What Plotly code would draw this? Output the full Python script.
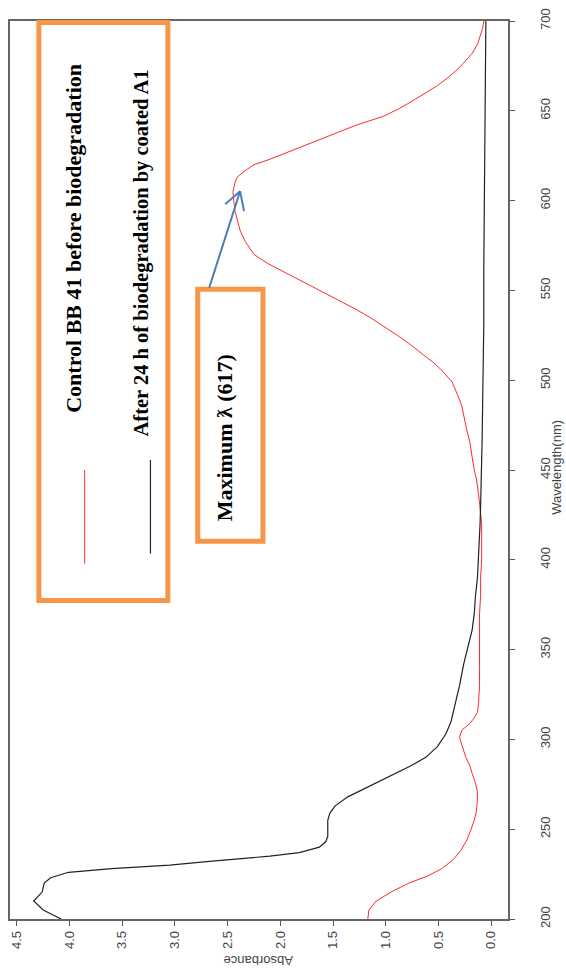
import plotly.graph_objects as go

# UV-Vis spectra of BB 41 dye (wavelength in nm, absorbance)
control_wl = [200, 205, 210, 215, 220, 224, 228, 233, 238, 244, 250, 255, 260, 266,
              271, 276, 281, 285, 290, 294, 298, 301, 305, 309, 312, 315, 320, 330,
              340, 350, 360, 370, 380, 390, 400, 412, 420, 426, 432, 437, 445, 450,
              457, 465, 472, 480, 486, 492, 499, 505, 510, 514, 520, 525, 530, 535,
              540, 544, 550, 555, 560, 565, 570, 577, 583, 588, 594, 599, 605, 610,
              613, 616, 620, 623, 627, 632, 636, 642, 647, 651, 655, 660, 664, 668,
              673, 678, 682, 687, 692, 696, 700]
control_abs = [1.17, 1.16, 1.09, 0.95, 0.78, 0.60, 0.47, 0.36, 0.29, 0.23, 0.19, 0.16,
               0.14, 0.13, 0.13, 0.15, 0.18, 0.20, 0.24, 0.26, 0.28, 0.30, 0.28, 0.20,
               0.16, 0.13, 0.12, 0.11, 0.11, 0.11, 0.11, 0.11, 0.10, 0.10, 0.09, 0.09,
               0.09, 0.10, 0.11, 0.12, 0.14, 0.16, 0.18, 0.20, 0.23, 0.26, 0.28, 0.32,
               0.37, 0.46, 0.55, 0.64, 0.77, 0.89, 1.02, 1.15, 1.30, 1.43, 1.63, 1.78,
               1.95, 2.12, 2.25, 2.33, 2.38, 2.40, 2.43, 2.44, 2.45, 2.43, 2.41, 2.35,
               2.25, 2.10, 1.93, 1.72, 1.55, 1.28, 1.02, 0.88, 0.76, 0.62, 0.51, 0.42,
               0.32, 0.24, 0.18, 0.13, 0.10, 0.08, 0.07]

after_wl = [200, 205, 210, 215, 220, 223, 226, 228, 230, 232, 235, 237, 240, 243, 246,
            250, 255, 259, 263, 268, 272, 277, 281, 285, 290, 296, 303, 310, 315, 320,
            330, 342, 352, 361, 370, 379, 390, 400, 410, 420, 430, 440, 450, 468, 490,
            510, 530, 560, 590, 620, 660, 700]
after_abs = [4.08, 4.25, 4.34, 4.26, 4.24, 4.18, 4.01, 3.60, 3.05, 2.70, 2.10, 1.82,
             1.63, 1.57, 1.55, 1.55, 1.55, 1.53, 1.48, 1.36, 1.22, 1.06, 0.92, 0.77,
             0.62, 0.51, 0.43, 0.38, 0.36, 0.34, 0.30, 0.26, 0.22, 0.18, 0.16, 0.15,
             0.13, 0.12, 0.11, 0.105, 0.10, 0.095, 0.09, 0.085, 0.08, 0.075, 0.07,
             0.07, 0.065, 0.06, 0.055, 0.05]

abs_ticks = [0.0, 0.5, 1.0, 1.5, 2.0, 2.5, 3.0, 3.5, 4.0, 4.5]
wl_ticks = [200, 250, 300, 350, 400, 450, 500, 550, 600, 650, 700]

control_name = "Control BB 41 before biodegradation"
after_name = "After 24 h of biodegradation by coated A1"
peak_label = "Maximum ƛ (617)"

W, H = 566, 974
ML, MR, MT, MB = 8, 58, 17, 55
PW, PH = W - ML - MR, H - MT - MB


def px(x):
    return (x - ML) / PW


def py(y):
    return (H - MB - y) / PH


ORANGE = "#f79646"
BLUE = "#4a7ebb"
SERIF = "Times New Roman, Liberation Serif, DejaVu Serif, serif"
SANS = "Arial, Liberation Sans, sans-serif"

fig = go.Figure()
# spectrum drawn sideways: absorbance horizontal, wavelength vertical
fig.add_trace(go.Scatter(x=control_abs, y=control_wl, mode="lines",
                         line=dict(color="#ff2a2a", width=1), name=control_name))
fig.add_trace(go.Scatter(x=after_abs, y=after_wl, mode="lines",
                         line=dict(color="#222222", width=1.2), name=after_name))

shapes = [
    # legend frame
    dict(type="rect", xref="paper", yref="paper", x0=px(37), x1=px(166.5),
         y0=py(599), y1=py(18.5), line=dict(color=ORANGE, width=5),
         fillcolor="white", layer="above"),
    dict(type="line", xref="paper", yref="paper", x0=px(83), x1=px(83),
         y0=py(468), y1=py(562), line=dict(color="#ff2a2a", width=1)),
    dict(type="line", xref="paper", yref="paper", x0=px(149), x1=px(149),
         y0=py(458), y1=py(552), line=dict(color="#222222", width=1.2)),
    # peak label frame
    dict(type="rect", xref="paper", yref="paper", x0=px(196.5), x1=px(262),
         y0=py(539.5), y1=py(286.5), line=dict(color=ORANGE, width=5),
         fillcolor="white", layer="above"),
    # arrow to the absorption maximum
    dict(type="line", xref="paper", yref="paper", x0=px(208), x1=px(239),
         y0=py(285), y1=py(188), line=dict(color=BLUE, width=2)),
    dict(type="line", xref="paper", yref="paper", x0=px(224), x1=px(239),
         y0=py(201), y1=py(188), line=dict(color=BLUE, width=2)),
    dict(type="line", xref="paper", yref="paper", x0=px(243), x1=px(239),
         y0=py(208), y1=py(188), line=dict(color=BLUE, width=2)),
]


def label(text, x, y, angle, font):
    return dict(text=text, xref="paper", yref="paper", x=px(x), y=py(y),
                xanchor="center", yanchor="middle", textangle=angle,
                showarrow=False, font=font)


annotations = [
    label("<b>" + control_name + "</b>", 71, 235, -90,
          dict(family=SERIF, size=22, color="black")),
    label("<b>" + after_name + "</b>", 140, 250, -90,
          dict(family=SERIF, size=20.5, color="black")),
    label("<b>" + peak_label + "</b>", 223, 436, -90,
          dict(family=SERIF, size=22, color="black")),
    label("Absorbance", 258, 960, 180,
          dict(family=SANS, size=13, color="#444444")),
    label("Wavelength(nm)", 556, 465, -90,
          dict(family=SANS, size=13, color="#444444")),
]

fig.update_layout(
    width=W, height=H,
    margin=dict(l=ML, r=MR, t=MT, b=MB),
    paper_bgcolor="white", plot_bgcolor="white",
    showlegend=False,
    shapes=shapes,
    annotations=annotations,
    xaxis=dict(range=[4.565, -0.16], tickmode="array", tickvals=abs_ticks,
               ticktext=[f"{v:.1f}" for v in abs_ticks], tickangle=-90,
               ticks="outside", ticklen=5, tickcolor="#555555",
               showline=True, linecolor="#666666", linewidth=1.5, mirror=True,
               showgrid=False, zeroline=False,
               tickfont=dict(family=SANS, size=13, color="#444444")),
    yaxis=dict(range=[200, 700], side="right", tickmode="array", tickvals=wl_ticks,
               tickangle=-90, ticks="outside", ticklen=5, tickcolor="#555555",
               ticklabelstandoff=20,
               showline=True, linecolor="#666666", linewidth=1.5, mirror=True,
               showgrid=False, zeroline=False,
               tickfont=dict(family=SANS, size=13, color="#444444")),
)

fig.write_html("out.html")
